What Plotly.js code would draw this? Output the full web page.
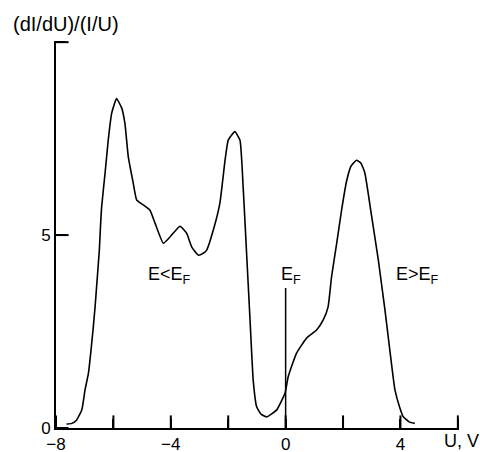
<!DOCTYPE html>
<html>
<head>
<meta charset="utf-8">
<script src="https://cdn.plot.ly/plotly-3.0.1.min.js"></script>
<style>html,body{margin:0;padding:0;background:#fff;}#chart{width:480px;height:452px;}</style>
</head>
<body>
<div id="chart"></div>
<script>
// Bias voltage U, V
const voltage = [-7.63,-7.45,-7.28,-7.10,-6.99,-6.87,-6.78,-6.70,-6.64,-6.56,-6.49,-6.45,-6.41,-6.29,-6.18,-6.06,-5.89,-5.71,-5.60,-5.48,-5.31,-5.19,-4.96,-4.73,-4.55,-4.26,-4.03,-3.68,-3.45,-3.27,-3.04,-2.87,-2.75,-2.52,-2.29,-2.11,-2.00,-1.77,-1.59,-1.48,-1.36,-1.24,-1.13,-1.01,-0.86,-0.66,-0.31,-0.02,0.09,0.38,0.73,1.08,1.31,1.48,1.60,1.78,1.95,2.13,2.28,2.47,2.62,2.76,3.00,3.23,3.46,3.63,3.81,3.98,4.10,4.30,4.50];
// Normalized conductance (dI/dU)/(I/U)
const conductance = [0.10,0.12,0.21,0.47,0.98,1.42,2.02,2.62,3.13,3.91,4.61,5.22,5.73,6.61,7.46,8.16,8.54,8.29,7.90,7.02,6.35,5.91,5.78,5.65,5.31,4.79,4.95,5.23,5.05,4.69,4.48,4.53,4.61,5.13,5.83,6.94,7.46,7.68,7.46,6.25,4.53,2.80,1.24,0.55,0.36,0.29,0.47,0.91,1.33,1.94,2.33,2.54,2.80,3.14,3.92,4.79,5.65,6.42,6.79,6.94,6.87,6.61,5.47,4.35,3.06,2.02,0.98,0.52,0.29,0.16,0.12];

// Fermi level marker
const fermiX = [0, 0];
const fermiY = [0, 3.63];

const xTickVals = [-8,-6,-4,-2,0,2,4,6];
const xTickText = ['\u22128',' ','\u22124',' ','0',' ','4',' '];
const yTickVals = [0,5,10];
const yTickText = ['0','5',' '];
const xMin = -8, xMax = 6.04, yMin = 0, yMax = 10.03;

// Region labels
const labelText = ['E&lt;E<sub>F</sub>', 'E<sub>F</sub>', 'E&gt;E<sub>F</sub>'];
const labelX = [-4.03, 0.19, 4.61];
const labelY = [3.95, 3.95, 3.95];

const FONT = 'Liberation Sans, Arial, sans-serif';

const curve = {
  x: voltage, y: conductance, type: 'scatter', mode: 'lines',
  line: {color: '#000', width: 1.6, shape: 'spline', smoothing: 0.4}
};
const fermiLine = {
  x: fermiX, y: fermiY, type: 'scatter', mode: 'lines',
  line: {color: '#000', width: 1.5}
};
// inward tick marks (half of each marker is clipped by the plot area)
const xTickMarks = {
  x: xTickVals, y: xTickVals.map(function(){ return yMin; }), type: 'scatter', mode: 'markers',
  cliponaxis: true,
  marker: {symbol: 'line-ns', size: 18, color: '#000', line: {color: '#000', width: 2}}
};
const yTickMarks = {
  x: yTickVals.map(function(){ return xMin; }), y: yTickVals, type: 'scatter', mode: 'markers',
  cliponaxis: true,
  marker: {symbol: 'line-ew', size: 18, color: '#000', line: {color: '#000', width: 2}}
};

const annotations = [
  {xref: 'paper', yref: 'paper', x: -0.112, y: 1.045, xanchor: 'left', yanchor: 'middle',
   text: '(dI/dU)/(I/U)', showarrow: false, font: {family: FONT, size: 20, color: '#000'}},
  {xref: 'paper', yref: 'paper', x: 1.0547, y: -0.033, xanchor: 'right', yanchor: 'middle',
   text: 'U, V', showarrow: false, font: {family: FONT, size: 18, color: '#000'}}
];
labelText.forEach(function(t, i) {
  annotations.push({xref: 'x', yref: 'y', x: labelX[i], y: labelY[i], xanchor: 'center', yanchor: 'middle',
    text: t, showarrow: false, font: {family: FONT, size: 18, color: '#000'}});
});

const layout = {
  width: 480, height: 452,
  margin: {l: 56, r: 21, t: 41, b: 24},
  showlegend: false,
  font: {family: FONT, size: 18, color: '#000'},
  xaxis: {range: [xMin, xMax], tickmode: 'array', tickvals: xTickVals, ticktext: xTickText,
    ticks: 'inside', ticklen: 9, tickwidth: 2, tickcolor: '#000', showline: true, linewidth: 2, linecolor: '#000', showgrid: false, zeroline: false,
    tickfont: {family: FONT, size: 17, color: '#000'}},
  yaxis: {range: [yMin, yMax], tickmode: 'array', tickvals: yTickVals, ticktext: yTickText,
    ticks: 'inside', ticklen: 9, tickwidth: 2, tickcolor: '#000', showline: true, linewidth: 2, linecolor: '#000', showgrid: false, zeroline: false,
    tickfont: {family: FONT, size: 17, color: '#000'}},
  annotations: annotations
};

Plotly.newPlot('chart', [curve, fermiLine, xTickMarks, yTickMarks], layout, {displayModeBar: false});
</script>
</body>
</html>
